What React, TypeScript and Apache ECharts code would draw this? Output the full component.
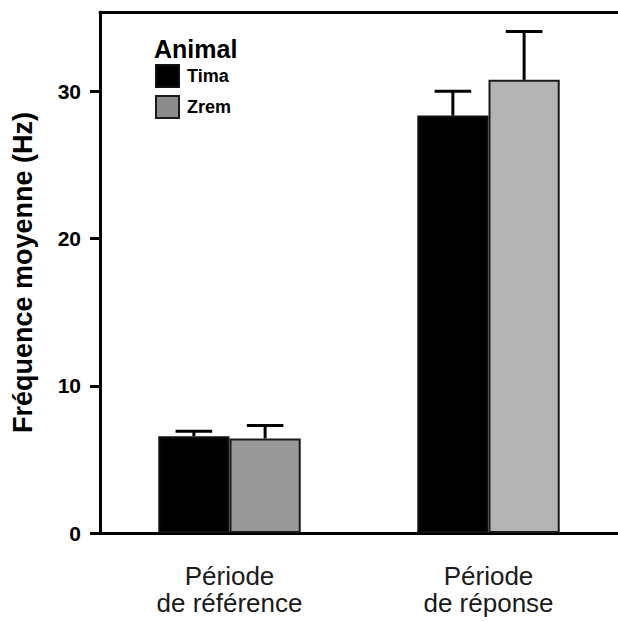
import React, { useEffect, useRef } from "react";
import * as echarts from "echarts";

// Mean firing frequency (Hz) per period, for each animal
const periods = ["Période\nde référence", "Période\nde réponse"];
const animals = ["Tima", "Zrem"];
const timaMeans = [6.58, 28.36];
const timaErrors = [0.34, 1.65];
const zremMeans = [6.42, 30.79];
const zremErrors = [0.88, 3.28];
const zremShades = ["#999999", "#b4b4b4"];
const yTicks = [0, 10, 20, 30];

const FONT = "'Liberation Sans', Arial, Helvetica, sans-serif";

export default function App() {
  const ref = useRef<HTMLDivElement>(null);

  useEffect(() => {
    if (!ref.current) return;
    const chart = echarts.init(ref.current, undefined, { renderer: "svg" });

    const groups = [
      { means: timaMeans, errors: timaErrors, side: -1 },
      { means: zremMeans, errors: zremErrors, side: 1 },
    ];
    const errorData: number[][] = [];
    groups.forEach((g) => {
      g.means.forEach((m, ci) => {
        errorData.push([ci, m, m + g.errors[ci], g.side]);
      });
    });

    const catGap = 0.45;

    chart.setOption({
      animation: false,
      backgroundColor: "#ffffff",
      title: {
        text: "Animal",
        left: 154,
        top: 36,
        padding: 0,
        textStyle: { fontFamily: FONT, fontWeight: "bold", fontSize: 25, color: "#000" },
      },
      legend: {
        data: animals,
        orient: "vertical",
        left: 155,
        top: 64,
        padding: 0,
        itemWidth: 23,
        itemHeight: 22,
        itemGap: 7,
        icon: "rect",
        textStyle: { fontFamily: FONT, fontWeight: "bold", fontSize: 18, color: "#000", padding: [0, 0, 0, 3] },
      },
      grid: { left: 100, right: 0, top: 12, bottom: 88, containLabel: false, outerBoundsMode: "none" },
      xAxis: [
        {
          type: "category",
          data: periods,
          axisLine: { lineStyle: { color: "#000", width: 3 } },
          axisTick: { alignWithLabel: true, length: 10, lineStyle: { color: "#000", width: 3 } },
          axisLabel: {
            margin: 29,
            fontFamily: FONT,
            fontSize: 26,
            lineHeight: 27,
            color: "#1a1a1a",
          },
        },
        {
          type: "category",
          data: periods,
          position: "top",
          axisLine: { lineStyle: { color: "#000", width: 3 } },
          axisTick: { show: false },
          axisLabel: { show: false },
        },
      ],
      yAxis: {
        type: "value",
        min: 0,
        max: 35.4,
        name: "Fréquence moyenne (Hz)",
        nameLocation: "middle",
        nameGap: 64,
        nameTextStyle: { fontFamily: FONT, fontWeight: "bold", fontSize: 27, color: "#000" },
        splitLine: { show: false },
        axisLine: { show: true, lineStyle: { color: "#000", width: 3 } },
        axisTick: { show: true, length: 10, customValues: yTicks, lineStyle: { color: "#000", width: 3 } },
        axisLabel: {
          customValues: yTicks,
          margin: 19,
          fontFamily: FONT,
          fontWeight: "bold",
          fontSize: 21,
          color: "#000",
        },
      },
      series: [
        {
          name: "Tima",
          type: "bar",
          data: timaMeans,
          barGap: "0%",
          barCategoryGap: "45%",
          itemStyle: { color: "#000000", borderColor: "#111", borderWidth: 2 },
        },
        {
          name: "Zrem",
          type: "bar",
          data: zremMeans.map((v, i) => ({ value: v, itemStyle: { color: zremShades[i] } })),
          barGap: "0%",
          barCategoryGap: "45%",
          itemStyle: { color: "#8c8c8c", borderColor: "#1a1a1a", borderWidth: 2 },
        },
        {
          type: "custom",
          z: 1,
          silent: true,
          data: errorData,
          renderItem: (params: any, api: any) => {
            const ci = api.value(0);
            const mean = api.value(1);
            const top = api.value(2);
            const side = api.value(3);
            const catWidth = api.size([1, 0])[0];
            const barW = (catWidth * (1 - catGap)) / 2;
            const base = api.coord([ci, mean]);
            const hi = api.coord([ci, top]);
            const cx = base[0] + (side * barW) / 2;
            const capHalf = barW / 4 + 0.5;
            const style = { stroke: "#000", lineWidth: 3, fill: "none" };
            return {
              type: "group",
              children: [
                { type: "line", shape: { x1: cx, y1: base[1], x2: cx, y2: hi[1] }, style },
                { type: "line", shape: { x1: cx - capHalf, y1: hi[1], x2: cx + capHalf, y2: hi[1] }, style },
              ],
            };
          },
        },
      ],
    });

    return () => chart.dispose();
  }, []);

  return (
    <div
      ref={ref}
      style={{ position: "fixed", left: 0, top: 0, width: 618, height: 621 }}
    />
  );
}
